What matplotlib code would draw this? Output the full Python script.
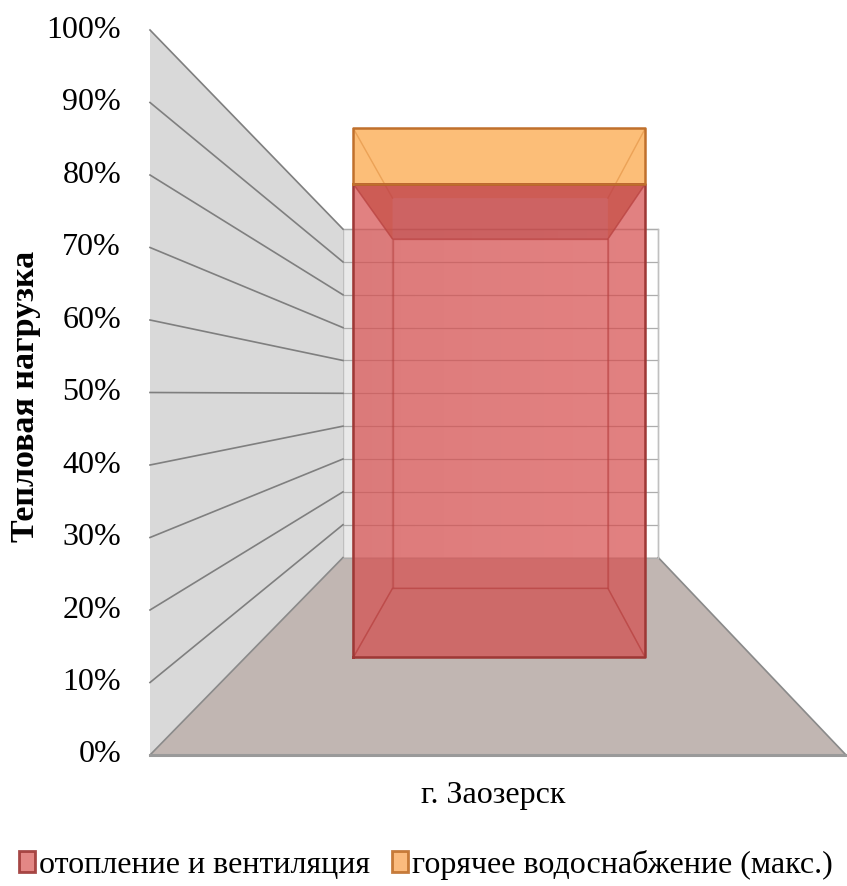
import numpy as np
import matplotlib
matplotlib.use("Agg")
import matplotlib.pyplot as plt
from matplotlib.patches import Polygon, Patch
from matplotlib.colors import LinearSegmentedColormap, to_rgb

plt.rcParams['font.family'] = ['Liberation Serif', 'DejaVu Serif']

# data
categories = ['г. Заозерск']
heating = [89.5]      # %
hot_water = [10.5]    # %
series_names = ['отопление и вентиляция', 'горячее водоснабжение (макс.)']
y_ticks = [0, 10, 20, 30, 40, 50, 60, 70, 80, 90, 100]
y_title = 'Тепловая нагрузка'

# styles
face_colors = ['#D84C4C', '#FCA23E']
edge_colors = ['#9E3836', '#C0702C']
FACE_ALPHA = 0.45

# perspective frame (pixel space of the figure)
X0, X1 = 150, 846          # front floor edge
Y0, H = 755, 725           # front 0% line and height of 100%
VX, VY = 502.8, 394        # vanishing point
K = 1 / 0.453 - 1          # depth shrink
BAR_W = 0.575              # part of category width
BAR_Z = (0.307, 0.711)     # bar depth range


def proj(u, v, z):
    """u: 0..1 across floor, v: 0..1 value, z: 0 front .. 1 back."""
    f = 1.0 / (1.0 + K * z)
    px = X0 + u * (X1 - X0)
    py = Y0 - v * H
    return VX + (px - VX) * f, VY + (py - VY) * f


def shade(color, k):
    return tuple(c * k for c in to_rgb(color))


fig = plt.figure(figsize=(8.47, 8.86), dpi=100)
ax = fig.add_axes([0, 0, 1, 1])
ax.set_xlim(0, 847)
ax.set_ylim(886, 0)
ax.axis('off')

# back wall with soft gradient
bw = [proj(0, 0, 1), proj(1, 0, 1), proj(1, 1, 1), proj(0, 1, 1)]
bw_poly = Polygon(bw, closed=True, facecolor='none', edgecolor='#BFBFBF', lw=1.0, zorder=2)
ax.add_patch(bw_poly)
grad = np.linspace(0, 1, 256).reshape(1, -1)
cmap_bw = LinearSegmentedColormap.from_list('bw', ['#E9E9E9', '#FFFFFF'])
im = ax.imshow(grad, extent=[bw[0][0], bw[1][0], bw[0][1], bw[2][1]], cmap=cmap_bw,
               aspect='auto', zorder=1)
im.set_clip_path(bw_poly)

# left wall
lw_pts = [proj(0, 0, 0), proj(0, 0, 1), proj(0, 1, 1), proj(0, 1, 0)]
ax.add_patch(Polygon(lw_pts, closed=True, facecolor='#D9D9D9', edgecolor='none', zorder=2))

# floor
fl = [proj(0, 0, 0), proj(1, 0, 0), proj(1, 0, 1), proj(0, 0, 1)]
ax.add_patch(Polygon(fl, closed=True, facecolor='#C1B6B2', edgecolor='none', zorder=2))
for a, b in [(fl[1], fl[2]), (fl[0], fl[3])]:
    ax.plot([a[0], b[0]], [a[1], b[1]], color='#8A8A8A', lw=1.2, zorder=3)
ax.plot([fl[0][0], fl[1][0]], [fl[0][1], fl[1][1]], color='#9A9A9A', lw=2.2, zorder=3)

# gridlines on both walls + tick labels
for t in y_ticks:
    v = t / 100
    p0, p1, p2 = proj(0, v, 0), proj(0, v, 1), proj(1, v, 1)
    ax.plot([p1[0], p2[0]], [p1[1], p2[1]], color='#ADADAD', lw=0.9, zorder=3)
    if t > 0:
        ax.plot([p0[0], p1[0]], [p0[1], p1[1]], color='#7F7F7F', lw=1.2, zorder=3)
    ax.text(p0[0] - 29, p0[1], f'{t}%', ha='right', va='center', fontsize=23, color='#000000')

ax.plot([bw[1][0], bw[2][0]], [bw[1][1], bw[2][1]], color='#BFBFBF', lw=1.0, zorder=3)


def box_corners(u0, u1, v0, v1, z0, z1):
    c = {}
    for i, u in enumerate((u0, u1)):
        for j, v in enumerate((v0, v1)):
            for k, z in enumerate((z0, z1)):
                c[(i, j, k)] = proj(u, v, z)
    return c


n = len(categories)
stacks = [heating, hot_water]
boxes = []
for ci in range(n):
    uc = (ci + 0.5) / n
    u0, u1 = uc - BAR_W / (2 * n), uc + BAR_W / (2 * n)
    base = 0.0
    for si, vals in enumerate(stacks):
        top = base + vals[ci] / 100
        boxes.append((si, box_corners(u0, u1, base, top, *BAR_Z)))
        base = top

faces = {
    'back':   [(0, 0, 1), (1, 0, 1), (1, 1, 1), (0, 1, 1)],
    'bottom': [(0, 0, 0), (1, 0, 0), (1, 0, 1), (0, 0, 1)],
    'top':    [(0, 1, 0), (1, 1, 0), (1, 1, 1), (0, 1, 1)],
    'left':   [(0, 0, 0), (0, 0, 1), (0, 1, 1), (0, 1, 0)],
    'right':  [(1, 0, 0), (1, 0, 1), (1, 1, 1), (1, 1, 0)],
    'front':  [(0, 0, 0), (1, 0, 0), (1, 1, 0), (0, 1, 0)],
}
# faces of the lowest segment get all sides, upper ones only what shows
seg_faces = {0: ('back', 'bottom', 'top', 'left', 'right'),
             1: ('top', 'left', 'right')}
# (shade, alpha) per face
look = {0: {'back': (1.0, FACE_ALPHA), 'bottom': (0.93, FACE_ALPHA), 'top': (0.8, 0.7),
            'left': (0.97, FACE_ALPHA), 'right': (0.97, FACE_ALPHA)},
        1: {'top': (1.0, FACE_ALPHA), 'left': (1.0, FACE_ALPHA), 'right': (1.0, FACE_ALPHA)}}
edges = {0: [faces[f] for f in ('back', 'left', 'right', 'bottom', 'top')],
         1: [[(0, 1, 0), (0, 1, 1)], [(1, 1, 0), (1, 1, 1)]]}

# upper segments first, so the lower box sits in front of them
z = 5
for si, c in sorted(boxes, key=lambda b: -b[0]):
    for name in seg_faces[si]:
        pts = [c[k] for k in faces[name]]
        k, a = look[si][name]
        ax.add_patch(Polygon(pts, closed=True, facecolor=shade(face_colors[si], k),
                             edgecolor='none', alpha=a, zorder=z))
    for e in edges[si]:
        pts = [c[k] for k in e]
        if len(e) > 2:
            pts.append(pts[0])
        xs, ys = zip(*pts)
        ax.plot(xs, ys, color=edge_colors[si], lw=1.0, alpha=0.5, zorder=z + 0.05)
    z += 0.2
for si, c in boxes:
    pts = [c[k] for k in faces['front']]
    ax.add_patch(Polygon(pts, closed=True, facecolor=face_colors[si],
                         edgecolor='none', alpha=FACE_ALPHA, zorder=z))
for si, c in boxes:
    pts = [c[k] for k in faces['front']] + [c[faces['front'][0]]]
    xs, ys = zip(*pts)
    ax.plot(xs, ys, color=edge_colors[si], lw=1.8, zorder=z + 1)

# category labels
for ci, cat in enumerate(categories):
    px, py = proj((ci + 0.5) / n, 0, 0)
    ax.text(px - 5, py + 41, cat, ha='center', va='center', fontsize=23)

# axis title
ax.text(26, 396, y_title, rotation=90, ha='center', va='center',
        fontsize=24.5, fontweight='bold')

# legend
handles = [Patch(facecolor=fc, edgecolor=ec, alpha=0.9, lw=2.0)
           for fc, ec in zip(['#E07A78', '#FBB470'], edge_colors)]
fig.legend(handles, series_names, loc='center', bbox_to_anchor=(0.503, 1 - 865 / 886),
           ncol=2, frameon=False, fontsize=23, handlelength=0.5, handleheight=0.65,
           handletextpad=0.12, columnspacing=0.7, borderpad=0)

fig.savefig('out.png', dpi=100)
